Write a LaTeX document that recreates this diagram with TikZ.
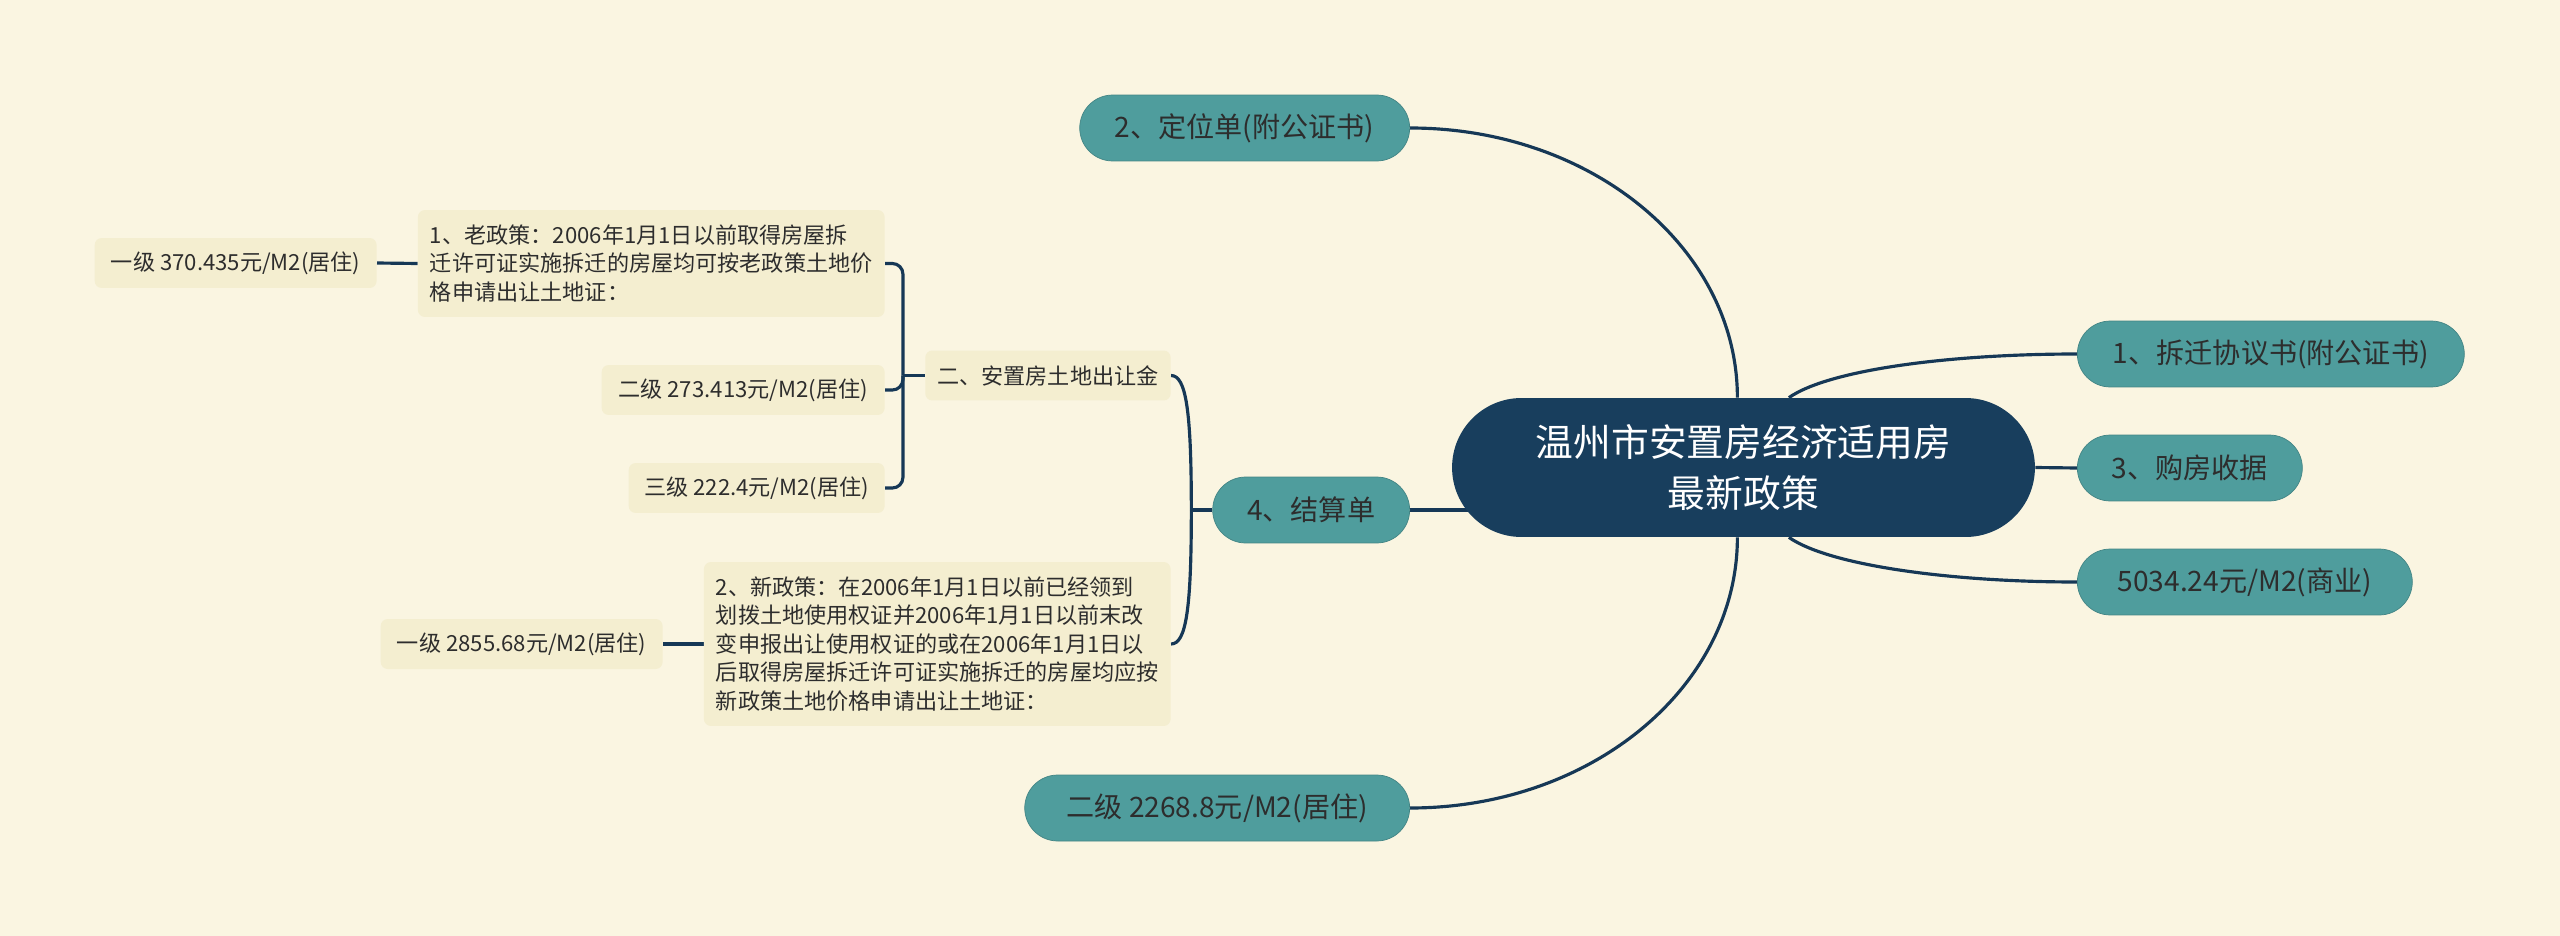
\documentclass[tikz,border=0pt]{standalone}
\usepackage{fontspec}
\setmainfont{Noto Sans CJK SC}
\usepackage{tikz}
\usetikzlibrary{calc,positioning,backgrounds}
\definecolor{bgc}{RGB}{250,245,225}
\definecolor{hubc}{RGB}{24,62,93}
\definecolor{tealc}{RGB}{79,157,157}
\definecolor{notec}{RGB}{244,238,208}
\definecolor{linec}{RGB}{22,56,86}
\definecolor{inkc}{RGB}{45,45,45}

\begin{document}
\begin{tikzpicture}[x=0.02cm,y=-0.02cm,line join=round,
  hub/.style={fill=hubc,text=white,rounded corners=1.39cm,minimum width=11.66cm,minimum height=2.78cm,align=center,font=\fontsize{21.5pt}{29pt}\selectfont},
  leaf/.style={fill=tealc,draw=tealc!85!black,line width=0.4pt,text=inkc,rounded corners=0.66cm,minimum height=1.32cm,inner xsep=0.68cm,font=\fontsize{16pt}{19pt}\selectfont},
  note/.style={fill=notec,text=inkc,rounded corners=4pt,minimum height=1cm,inner xsep=0.24cm,align=left,font=\fontsize{12.6pt}{16.2pt}\selectfont},
  link/.style={draw=linec,line width=1.8pt}]
  \useasboundingbox (0,0) rectangle (2560,936);
  % centre and first level
  \node[hub] (ctr) at (1743.5,467.5) {温州市安置房经济适用房\\最新政策};
  \node[leaf,anchor=east,minimum width=6.6cm] (dwd) at (1410,128) {2、定位单(附公证书)};
  \node[leaf,anchor=west,minimum width=7.74cm] (cqx) at (2077,354) {1、拆迁协议书(附公证书)};
  \node[leaf,anchor=west,minimum width=4.5cm] (gfs) at (2077,468) {3、购房收据};
  \node[leaf,anchor=west,minimum width=6.7cm] (syj) at (2077,582) {5034.24元/M2(商业)};
  \node[leaf,anchor=east,minimum width=7.7cm] (ejj) at (1410,808) {二级 2268.8元/M2(居住)};
  \node[leaf,anchor=east,minimum width=3.94cm] (jsd) at (1410,510) {4、结算单};
  % settlement branch
  \node[note,anchor=east] (azf) at (1171,375.5) {二、安置房土地出让金};
  \node[note,anchor=east,minimum height=2.14cm] (lzc) at (885,263.5) {1、老政策：2006年1月1日以前取得房屋拆\\迁许可证实施拆迁的房屋均可按老政策土地价\\格申请出让土地证：};
  \node[note,anchor=east,minimum height=3.28cm] (xzc) at (1171,644) {2、新政策：在2006年1月1日以前已经领到\\划拨土地使用权证并2006年1月1日以前末改\\变申报出让使用权证的或在2006年1月1日以\\后取得房屋拆迁许可证实施拆迁的房屋均应按\\新政策土地价格申请出让土地证：};
  \node[note,anchor=east,minimum width=5.64cm] (yj1) at (377,263) {一级 370.435元/M2(居住)};
  \node[note,anchor=east,minimum width=5.66cm] (ej2) at (885,390) {二级 273.413元/M2(居住)};
  \node[note,anchor=east,minimum width=5.12cm] (sj3) at (885,488) {三级 222.4元/M2(居住)};
  \node[note,anchor=east,minimum width=5.64cm] (yj2) at (663,644) {一级 2855.68元/M2(居住)};
  \coordinate (jsj) at ($(jsd.west)+(-21,0)$);
  \coordinate (azj) at ($(azf.west)+(-22,0)$);
  \begin{scope}[on background layer]
    \fill[bgc] (0,0) rectangle (2560,936);
    \draw[link] (ctr.95) .. controls +(0,-149) and +(182,0) .. (dwd.east);
    \draw[link] (ctr.265) .. controls +(0,149) and +(182,0) .. (ejj.east);
    \draw[link] (ctr.57) .. controls +(40,-28) and +(-127,0) .. (cqx.west);
    \draw[link] (ctr.-57) .. controls +(40,28) and +(-127,0) .. (syj.west);
    \draw[link] (ctr.east) -- (gfs.west);
    \draw[link] (jsd.east) -- (jsd.east -| ctr.center);
    % brackets
    \draw[link] (jsd.west) -- (jsj);
    \draw[link] (jsj) .. controls +(0,-100) and +(15,0) .. (azf.east);
    \draw[link] (jsj) .. controls +(0,100) and +(15,0) .. (xzc.east);
    \draw[link] (azf.west) -- (azj);
    \draw[link,rounded corners=6pt] (azj) |- (lzc.east);
    \draw[link,rounded corners=6pt] (azj) |- (ej2.east);
    \draw[link,rounded corners=6pt] (azj) |- (sj3.east);
    \draw[link] (lzc.west) -- (yj1.east);
    \draw[link] (xzc.west) -- (yj2.east);
  \end{scope}
\end{tikzpicture}
\end{document}
